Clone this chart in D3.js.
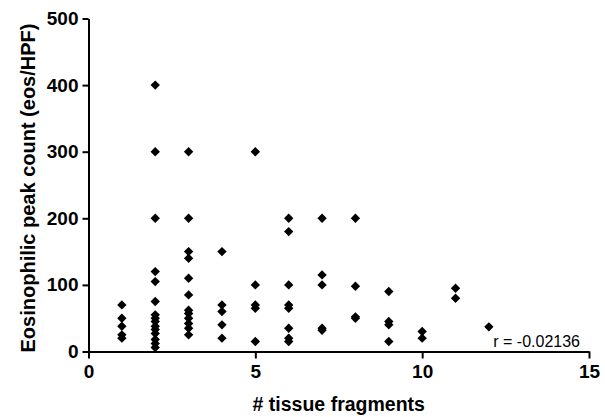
<!DOCTYPE html>
<html>
<head>
<meta charset="utf-8">
<script src="https://cdn.jsdelivr.net/npm/d3@7"></script>
<style>
  body { margin: 0; background: #fff; }
  svg { display: block; font-family: "Liberation Sans", Arial, sans-serif; }
  .axis path, .axis line { stroke: #000; stroke-width: 2; }
  .axis text { font-size: 19px; font-weight: bold; fill: #000; }
</style>
</head>
<body>
<script>
// tissue fragment counts (x) and the peak eos counts seen at each
const fragments = [1, 2, 3, 4, 5, 6, 7, 8, 9, 10, 11, 12]
const peakCounts = [
  [70, 50, 38, 25, 20],
  [400, 300, 200, 120, 105, 75, 55, 50, 45, 38, 33, 27, 18, 12, 6],
  [300, 200, 150, 140, 110, 85, 62, 57, 50, 42, 35, 25],
  [150, 70, 60, 40, 20],
  [300, 100, 70, 65, 15],
  [200, 180, 100, 70, 65, 35, 20, 15],
  [200, 115, 100, 35, 32],
  [200, 98, 52, 50],
  [90, 45, 40, 15],
  [30, 20],
  [95, 80],
  [37]
]
const xTicks = [0, 5, 10, 15]
const yTicks = [0, 100, 200, 300, 400, 500]
const rLabel = "r = -0.02136"

const w = 605
const h = 417
const m = {left: 88.5, right: 16, top: 18.5, bottom: 65.5}

const points = []
fragments.forEach((f, i) => peakCounts[i].forEach(v => points.push({x: f, y: v})))

const svg = d3.select("body").append("svg").attr("width", w).attr("height", h)

const x = d3.scaleLinear().domain([0, 15]).range([m.left, w - m.right])
const y = d3.scaleLinear().domain([0, 500]).range([h - m.bottom, m.top])

svg.append("g").attr("class", "axis").attr("transform", "translate(0," + (h - m.bottom) + ")")
  .call(d3.axisBottom(x).tickValues(xTicks).tickSize(7).tickSizeOuter(0).tickPadding(6))
svg.append("g").attr("class", "axis").attr("transform", "translate(" + m.left + ",0)")
  .call(d3.axisLeft(y).tickValues(yTicks).tickSize(6).tickSizeOuter(0).tickPadding(4))

const sym = d3.symbol(d3.symbolSquare, 44)
svg.append("g").selectAll("path").data(points).enter().append("path")
  .attr("d", sym)
  .attr("transform", d => "translate(" + x(d.x) + "," + y(d.y) + ") rotate(45)")
  .attr("fill", "#000")

svg.append("text").attr("x", x(15) - 9).attr("y", y(0) - 5).attr("text-anchor", "end")
  .style("font-size", "16px").text(rLabel)

svg.append("text").attr("x", (x(0) + x(15)) / 2).attr("y", 411).attr("text-anchor", "middle")
  .style("font-size", "19.5px").style("font-weight", "bold").text("# tissue fragments")

svg.append("text").attr("transform", "translate(35," + ((y(0) + y(500)) / 2 + 3) + ") rotate(-90)")
  .attr("text-anchor", "middle").style("font-size", "20px").style("font-weight", "bold")
  .text("Eosinophilic peak count (eos/HPF)")
</script>
</body>
</html>
